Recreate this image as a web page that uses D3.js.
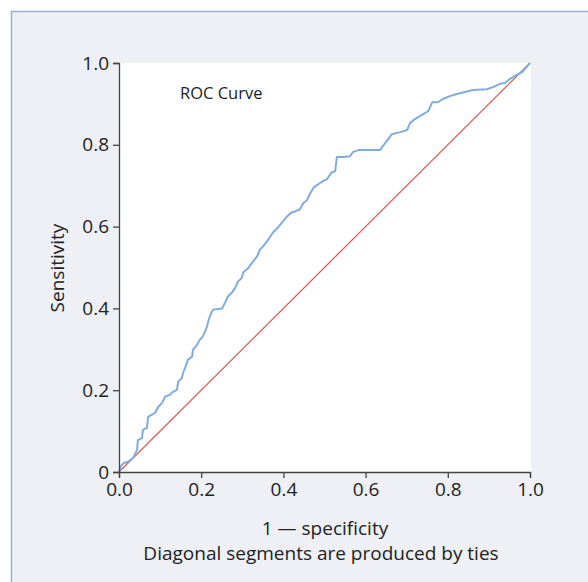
<!DOCTYPE html>
<html>
<head>
<meta charset="utf-8">
<script src="https://cdn.jsdelivr.net/npm/d3@7"></script>
<style>
  html, body { margin: 0; padding: 0; background: #fff; }
  svg text { font-family: "Open Sans", "Noto Sans", sans-serif; fill: #222; }
  .axis path, .axis line { stroke: #444; stroke-width: 1.3; }
</style>
</head>
<body>
<div id="chart"></div>
<script>
// ROC curve (false positive rate vs true positive rate)
const fpr = [0, 0.005, 0.012, 0.022, 0.034, 0.044, 0.046, 0.056, 0.058, 0.068,
  0.071, 0.080, 0.088, 0.095, 0.105, 0.112, 0.124, 0.131, 0.141, 0.144,
  0.153, 0.156, 0.161, 0.168, 0.178, 0.180, 0.190, 0.197, 0.204, 0.209,
  0.214, 0.217, 0.221, 0.226, 0.229, 0.251, 0.258, 0.265, 0.275, 0.282,
  0.290, 0.299, 0.302, 0.314, 0.324, 0.336, 0.343, 0.350, 0.360, 0.367,
  0.375, 0.387, 0.399, 0.409, 0.421, 0.428, 0.440, 0.448, 0.457, 0.465,
  0.474, 0.484, 0.496, 0.506, 0.518, 0.526, 0.530, 0.545, 0.562, 0.569,
  0.582, 0.635, 0.642, 0.655, 0.664, 0.684, 0.701, 0.708, 0.720, 0.732,
  0.752, 0.757, 0.762, 0.776, 0.788, 0.805, 0.822, 0.842, 0.861, 0.895,
  0.910, 0.927, 0.939, 0.951, 0.968, 0.981, 1];
const tpr = [0, 0.015, 0.022, 0.025, 0.034, 0.054, 0.078, 0.083, 0.103, 0.108,
  0.135, 0.140, 0.145, 0.159, 0.169, 0.184, 0.189, 0.196, 0.201, 0.221,
  0.230, 0.243, 0.255, 0.275, 0.282, 0.299, 0.311, 0.324, 0.331, 0.343,
  0.355, 0.368, 0.380, 0.392, 0.397, 0.400, 0.414, 0.429, 0.439, 0.449,
  0.466, 0.475, 0.488, 0.498, 0.512, 0.527, 0.544, 0.551, 0.564, 0.574,
  0.586, 0.598, 0.613, 0.625, 0.635, 0.637, 0.642, 0.657, 0.664, 0.681,
  0.696, 0.703, 0.711, 0.716, 0.733, 0.735, 0.770, 0.770, 0.772, 0.782,
  0.787, 0.787, 0.797, 0.814, 0.826, 0.831, 0.836, 0.853, 0.863, 0.870,
  0.882, 0.892, 0.904, 0.904, 0.912, 0.919, 0.924, 0.929, 0.934, 0.936,
  0.941, 0.949, 0.951, 0.961, 0.971, 0.978, 1];

const xTicks = [0, 0.2, 0.4, 0.6, 0.8, 1.0];
const yTicks = [0, 0.2, 0.4, 0.6, 0.8, 1.0];
const yTickLabels = ['0', '0.2', '0.4', '0.6', '0.8', '1.0'];

const W = 588, H = 582;
const margin = { left: 119, right: 57, top: 63, bottom: 110 };
const iw = 531 - margin.left, ih = 472 - margin.top;

const svg = d3.select('#chart').append('svg')
  .attr('width', W)
  .attr('height', H);

// panel background with frame running off the page
svg.append('rect')
  .attr('x', 11.5).attr('y', 11.5)
  .attr('width', 640).attr('height', 640)
  .attr('fill', '#eef0f5')
  .attr('stroke', '#92b2d6')
  .attr('stroke-width', 1.5);

const g = svg.append('g').attr('transform', `translate(${margin.left},${margin.top})`);

const x = d3.scaleLinear().domain([0, 1]).range([0, iw - 1]);
const y = d3.scaleLinear().domain([0, 1]).range([ih, 0]);

g.append('rect')
  .attr('x', 0).attr('y', 0)
  .attr('width', iw).attr('height', ih)
  .attr('fill', '#fff');

// reference diagonal
g.append('line')
  .attr('x1', x(0)).attr('y1', y(0))
  .attr('x2', x(1)).attr('y2', y(1))
  .attr('stroke', '#d9605a')
  .attr('stroke-width', 1.3);

const pts = fpr.map((f, i) => [f, tpr[i]]);
g.append('path')
  .datum(pts)
  .attr('fill', 'none')
  .attr('stroke', '#82acdf')
  .attr('stroke-width', 2)
  .attr('stroke-linejoin', 'round')
  .attr('d', d3.line().x(d => x(d[0])).y(d => y(d[1])));

g.append('g')
  .attr('class', 'axis')
  .attr('transform', `translate(0,${ih})`)
  .call(d3.axisBottom(x).tickValues(xTicks).tickFormat(d3.format('.1f')).tickSizeOuter(0).tickSize(6).tickPadding(5));

g.append('g')
  .attr('class', 'axis')
  .call(d3.axisLeft(y).tickValues(yTicks).tickFormat((d, i) => yTickLabels[i]).tickSizeOuter(0).tickSize(6).tickPadding(4));

svg.selectAll('.axis text')
  .style('font-size', '19px')
  .style('font-family', '"Open Sans", sans-serif')
  .attr('fill', '#222');

g.append('text')
  .attr('x', 61).attr('y', 36)
  .style('font-size', '16.5px')
  .text('ROC Curve');

svg.append('text')
  .attr('transform', 'translate(64,268) rotate(-90)')
  .attr('text-anchor', 'middle')
  .style('font-size', '19px')
  .text('Sensitivity');

svg.append('text')
  .attr('x', 325).attr('y', 535)
  .attr('text-anchor', 'middle')
  .style('font-size', '19px')
  .text('1 — specificity');

svg.append('text')
  .attr('x', 321).attr('y', 560)
  .attr('text-anchor', 'middle')
  .style('font-size', '19px')
  .text('Diagonal segments are produced by ties');
</script>
</body>
</html>
